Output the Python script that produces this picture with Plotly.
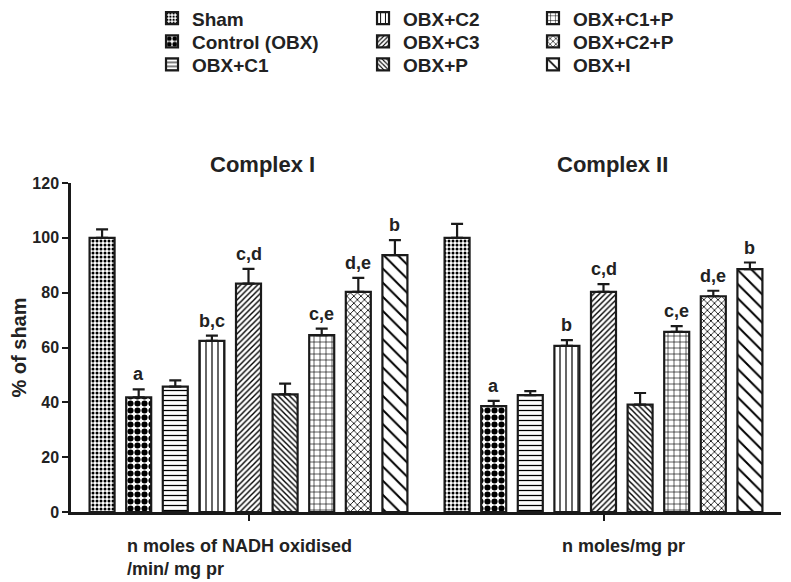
import plotly.graph_objects as go

categories = ["Complex I", "Complex II"]
series = ["Sham", "Control (OBX)", "OBX+C1", "OBX+C2", "OBX+C3",
          "OBX+P", "OBX+C1+P", "OBX+C2+P", "OBX+I"]
complex1 = [100.0, 41.8, 45.7, 62.4, 83.3, 42.9, 64.5, 80.3, 93.7]
complex1_err = [3.1, 2.9, 2.3, 1.9, 5.4, 3.9, 2.4, 5.1, 5.5]
complex2 = [100.0, 38.6, 42.6, 60.6, 80.3, 39.2, 65.7, 78.7, 88.6]
complex2_err = [5.1, 1.9, 1.5, 2.1, 2.8, 4.2, 2.1, 2.0, 2.4]
labels1 = ["", "a", "", "b,c", "c,d", "", "c,e", "d,e", "b"]
labels2 = ["", "a", "", "b", "c,d", "", "c,e", "d,e", "b"]
xlabels = ["n moles of NADH oxidised<br>/min/ mg pr", "n moles/mg pr"]
yticks = [0, 20, 40, 60, 80, 100, 120]

patterns = [
    dict(shape=".", size=4, solidity=0.45),
    dict(shape=".", size=7, solidity=0.6),
    dict(shape="-", size=5, solidity=0.25),
    dict(shape="|", size=6, solidity=0.2),
    dict(shape="/", size=4, solidity=0.35),
    dict(shape="\\", size=4, solidity=0.35),
    dict(shape="+", size=6, solidity=0.2),
    dict(shape="x", size=5, solidity=0.3),
    dict(shape="\\", size=10, solidity=0.2),
]

FONT = "Liberation Sans, Arial, sans-serif"
BARGAP = 0.072
GROUPGAP = 0.317

fig = go.Figure()
legend_names = ["legend"] + [f"legend{i}" for i in range(2, 10)]
for i, name in enumerate(series):
    vals = [complex1[i], complex2[i]]
    errs = [complex1_err[i], complex2_err[i]]
    p = dict(patterns[i])
    p.update(fgcolor="black", bgcolor="white", fillmode="replace")
    fig.add_trace(go.Bar(
        name=name, x=categories, y=vals,
        marker=dict(color="white", pattern=p,
                    line=dict(color="#1a1a1a", width=2.2)),
        error_y=dict(type="data", array=errs, arrayminus=[0, 0],
                     symmetric=False, color="#1a1a1a", thickness=2.2, width=6),
        legend=legend_names[i],
    ))

# significance letters above error bars
slot = (1 - BARGAP) / len(series)
for ci, (vals, errs, labs) in enumerate([(complex1, complex1_err, labels1),
                                         (complex2, complex2_err, labels2)]):
    for i, lab in enumerate(labs):
        if not lab:
            continue
        fig.add_annotation(
            x=ci + (i - (len(series) - 1) / 2) * slot, xref="x",
            y=vals[i] + errs[i], yref="y", yanchor="bottom", yshift=3,
            text=f"<b>{lab}</b>", showarrow=False,
            font=dict(family=FONT, size=18, color="#222"))

# panel titles
for ci, (cat, shift) in enumerate(zip(categories, [14, 9])):
    fig.add_annotation(x=ci, xref="x", xshift=shift, y=1.055, yref="paper",
                       yanchor="middle",
                       text=f"<b>{cat}</b>", showarrow=False,
                       font=dict(family=FONT, size=22, color="#222"))

# x labels under each group
fig.add_annotation(x=0, xref="x", xshift=-124, xanchor="left", align="left",
                   y=-0.068, yref="paper", yanchor="top",
                   text=f"<b>{xlabels[0]}</b>", showarrow=False,
                   font=dict(family=FONT, size=18, color="#222"))
fig.add_annotation(x=1, xref="x", xshift=20, xanchor="center",
                   y=-0.068, yref="paper", yanchor="top",
                   text=f"<b>{xlabels[1]}</b>", showarrow=False,
                   font=dict(family=FONT, size=18, color="#222"))

# legends: one per entry, arranged in 3 columns x 3 rows
col_x = [0.1141, 0.4113, 0.6507]
row_y = [1.5005, 1.4301, 1.3600]
layout_legends = {}
for i, ln in enumerate(legend_names):
    c, r = divmod(i, 3)
    layout_legends[ln] = dict(
        x=col_x[c], y=row_y[r], xanchor="left", yanchor="middle",
        bgcolor="rgba(0,0,0,0)", borderwidth=0,
        font=dict(family=FONT, size=19, color="#222", weight="bold"))

fig.update_layout(
    width=783, height=574,
    margin=dict(l=63, r=10, t=175, b=70, autoexpand=False),
    paper_bgcolor="white", plot_bgcolor="white",
    barmode="group", bargap=BARGAP, bargroupgap=GROUPGAP,
    showlegend=True,
    font=dict(family=FONT, color="#222"),
    **layout_legends,
)
fig.update_xaxes(
    showline=True, linecolor="#1a1a1a", linewidth=2.5,
    ticks="outside", ticklen=6, tickwidth=1.5, tickcolor="#1a1a1a",
    showticklabels=False, showgrid=False, range=[-0.5, 1.5],
    automargin=False,
)
fig.update_yaxes(
    range=[0, 120], tickvals=yticks, showline=True, linecolor="#1a1a1a",
    linewidth=2.5, ticks="outside", ticklen=6, tickwidth=2,
    tickcolor="#1a1a1a", showgrid=False, zeroline=False, automargin=False,
    tickfont=dict(family=FONT, size=16, color="#222", weight="bold"),
    title=dict(text="<b>% of sham</b>", standoff=3,
               font=dict(family=FONT, size=20, color="#222")),
)

fig.write_html("out.html")
